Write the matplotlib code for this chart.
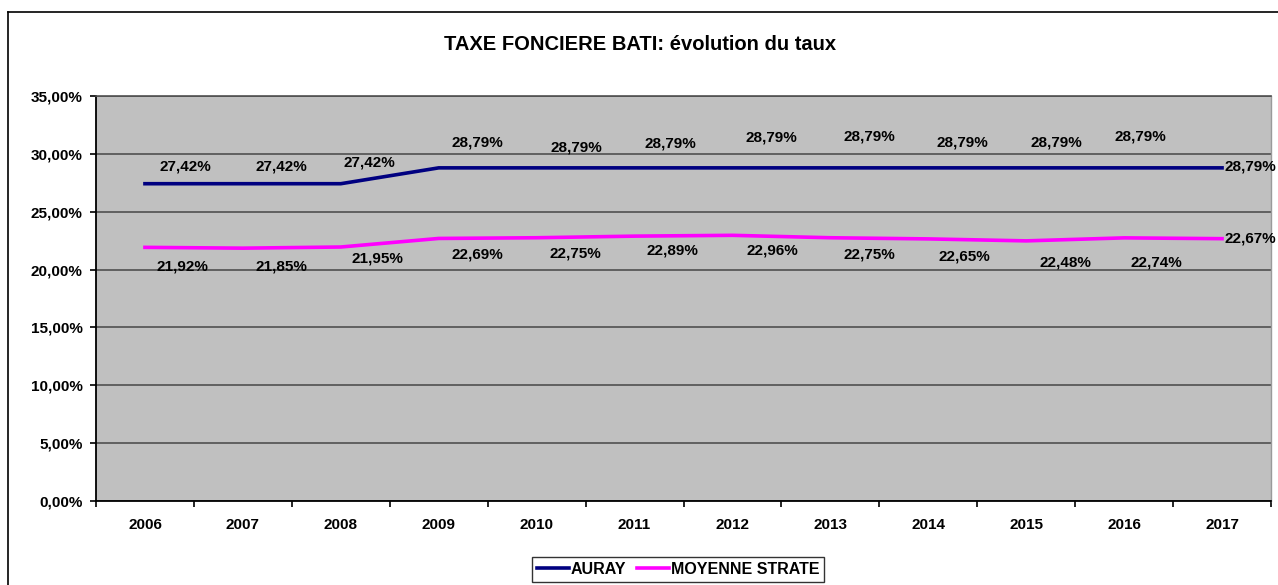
import matplotlib
matplotlib.use("Agg")
import matplotlib.pyplot as plt
from matplotlib.lines import Line2D
from matplotlib.ticker import FuncFormatter, MultipleLocator, FixedLocator

plt.rcParams['font.family'] = ['Liberation Sans', 'DejaVu Sans']
plt.rcParams['font.weight'] = 'bold'

years = ['2006', '2007', '2008', '2009', '2010', '2011', '2012', '2013', '2014', '2015', '2016', '2017']
auray = [27.42, 27.42, 27.42, 28.79, 28.79, 28.79, 28.79, 28.79, 28.79, 28.79, 28.79, 28.79]
moyenne = [21.92, 21.85, 21.95, 22.69, 22.75, 22.89, 22.96, 22.75, 22.65, 22.48, 22.74, 22.67]
title = 'TAXE FONCIERE BATI: évolution du taux'
series_names = ['AURAY', 'MOYENNE STRATE']

# label offsets in pixels (style only)
auray_off = [(40, 17), (38, 17), (29, 21), (39, 25), (40, 20), (36, 24), (39, 30),
             (39, 31), (34, 25), (30, 25), (16, 31), (28, 1)]
moy_off = [(37, -19), (39, -18), (37, -11), (39, -16), (39, -16), (38, -14), (40, -15),
           (39, -17), (36, -18), (39, -22), (32, -25), (28, 0)]

W, H = 1278, 585
fig = plt.figure(figsize=(W / 100, H / 100), dpi=100)
fig.patch.set_facecolor('white')

# outer chart border (left and top visible)
fig.add_artist(Line2D([8 / W, 8 / W], [0, 1 - 12 / H], color='black', lw=1.2))
fig.add_artist(Line2D([8 / W, 1], [1 - 12 / H, 1 - 12 / H], color='black', lw=1.2))

ax = fig.add_axes([96 / W, 1 - 501 / H, (1271 - 96) / W, (501 - 96) / H])
ax.set_facecolor('#C0C0C0')

x = list(range(len(years)))
ax.plot(x, auray, color='#000080', lw=2.6, label=series_names[0], zorder=3)
ax.plot(x, moyenne, color='#FF00FF', lw=2.6, label=series_names[1], zorder=3)

ax.set_xlim(-0.5, len(years) - 0.5)
ax.set_ylim(0, 35)
ax.yaxis.set_major_locator(MultipleLocator(5))
ax.yaxis.set_major_formatter(FuncFormatter(lambda v, p: f"{v:.2f}".replace('.', ',') + '%'))
ax.grid(axis='y', color='#505050', lw=1.2, zorder=1)
ax.set_axisbelow(True)

ax.xaxis.set_major_locator(FixedLocator(x))
ax.set_xticklabels(years)
ax.xaxis.set_minor_locator(FixedLocator([i - 0.5 for i in range(len(years) + 1)]))
ax.tick_params(axis='x', which='major', length=0, pad=12, labelsize=11)
ax.tick_params(axis='x', which='minor', length=4.5, width=1.2, direction='out', color='black')
ax.tick_params(axis='y', which='major', length=4.5, width=1.2, direction='out', pad=5, labelsize=11)
for lab in ax.get_xticklabels() + ax.get_yticklabels():
    lab.set_fontweight('bold')

for side in ['left', 'bottom']:
    ax.spines[side].set_color('black')
    ax.spines[side].set_linewidth(1.3)
ax.spines['top'].set_color('#505050')
ax.spines['top'].set_linewidth(1.2)
ax.spines['right'].set_color('#9a9a9a')
ax.spines['right'].set_linewidth(1.0)

def fmt(v):
    return f"{v:.2f}".replace('.', ',') + '%'

for i, v in enumerate(auray):
    dx, dy = auray_off[i]
    ax.annotate(fmt(v), (x[i], v), xytext=(dx, dy), textcoords='offset pixels',
                ha='center', va='center', fontsize=11, fontweight='bold', zorder=4)
for i, v in enumerate(moyenne):
    dx, dy = moy_off[i]
    ax.annotate(fmt(v), (x[i], v), xytext=(dx, dy), textcoords='offset pixels',
                ha='center', va='center', fontsize=11, fontweight='bold', zorder=4)

fig.text(640 / W, 1 - 44 / H, title, ha='center', va='center', fontsize=14.5, fontweight='bold')

leg = fig.legend(loc='upper center', bbox_to_anchor=(678 / W, 1 - 557 / H), ncol=2,
                 fontsize=11.5, frameon=True, fancybox=False, handlelength=2.0,
                 handletextpad=0.1, columnspacing=0.7, borderpad=0.3, borderaxespad=0)
leg.get_frame().set_edgecolor('black')
leg.get_frame().set_linewidth(1.0)
for t in leg.get_texts():
    t.set_fontweight('bold')

fig.savefig('out.png', dpi=100)
